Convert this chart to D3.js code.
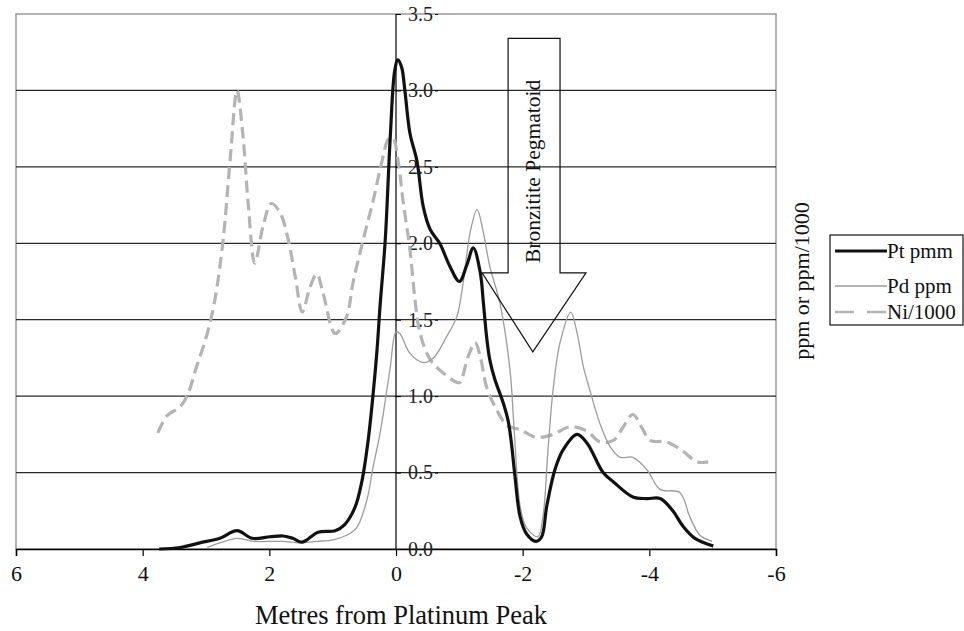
<!DOCTYPE html>
<html>
<head>
<meta charset="utf-8">
<script src="https://cdn.jsdelivr.net/npm/d3@7"></script>
<style>
  html, body { margin: 0; padding: 0; background: #fff; }
  svg { display: block; font-family: "Liberation Serif", "Times New Roman", serif; }
</style>
</head>
<body>
<svg id="chart" width="964" height="631"></svg>
<script>
// ---- Data (metres from platinum peak, value) ----
const ptX = [3.74,3.41,3.10,2.78,2.51,2.27,1.99,1.78,1.63,1.48,1.23,0.96,0.81,0.65,0.54,0.44,0.36,0.30,0.25,0.17,0.09,0.02,-0.03,-0.09,-0.14,-0.22,-0.33,-0.43,-0.54,-0.69,-0.85,-1.00,-1.12,-1.22,-1.33,-1.38,-1.43,-1.48,-1.56,-1.69,-1.77,-1.82,-1.88,-1.96,-2.06,-2.21,-2.30,-2.38,-2.51,-2.64,-2.86,-3.02,-3.27,-3.43,-3.74,-3.96,-4.17,-4.37,-4.53,-4.72,-5.01];
const ptY = [0.00,0.01,0.04,0.07,0.12,0.07,0.08,0.085,0.07,0.045,0.11,0.12,0.16,0.27,0.44,0.71,1.02,1.30,1.60,2.02,2.70,3.13,3.20,3.15,3.00,2.72,2.54,2.24,2.09,2.00,1.85,1.75,1.86,1.97,1.81,1.61,1.39,1.24,1.11,0.96,0.84,0.70,0.47,0.21,0.10,0.05,0.08,0.28,0.52,0.65,0.75,0.69,0.50,0.44,0.34,0.33,0.33,0.25,0.15,0.07,0.02];

const pdX = [2.98,2.78,2.51,2.26,1.78,1.52,1.25,0.99,0.78,0.62,0.46,0.36,0.25,0.17,0.09,0.00,-0.06,-0.22,-0.43,-0.59,-0.80,-0.96,-1.06,-1.17,-1.28,-1.37,-1.48,-1.64,-1.80,-1.87,-1.96,-2.06,-2.24,-2.32,-2.40,-2.48,-2.59,-2.76,-2.86,-2.96,-3.06,-3.22,-3.38,-3.54,-3.74,-3.96,-4.17,-4.48,-4.64,-4.80,-4.99];
const pdY = [0.01,0.04,0.07,0.05,0.05,0.04,0.05,0.06,0.09,0.14,0.32,0.54,0.76,0.97,1.19,1.42,1.41,1.28,1.22,1.25,1.39,1.52,1.74,2.07,2.22,2.09,1.85,1.61,1.17,0.75,0.28,0.14,0.08,0.21,0.65,1.04,1.35,1.55,1.41,1.19,1.04,0.82,0.67,0.60,0.60,0.52,0.39,0.37,0.21,0.09,0.05];

const niX = [3.76,3.62,3.41,3.30,3.15,2.98,2.86,2.73,2.62,2.51,2.42,2.33,2.23,2.10,1.97,1.83,1.70,1.59,1.48,1.36,1.25,1.15,0.96,0.78,0.68,0.52,0.36,0.22,0.12,0.05,-0.04,-0.11,-0.22,-0.30,-0.38,-0.54,-0.75,-0.96,-1.01,-1.14,-1.25,-1.33,-1.43,-1.59,-1.75,-1.96,-2.22,-2.48,-2.75,-3.02,-3.22,-3.43,-3.59,-3.74,-3.90,-4.01,-4.27,-4.53,-4.75,-4.93];
const niY = [0.76,0.87,0.93,1.00,1.19,1.41,1.63,2.02,2.54,3.00,2.72,2.24,1.87,2.11,2.26,2.20,2.02,1.78,1.55,1.71,1.80,1.67,1.41,1.52,1.74,2.02,2.28,2.54,2.68,2.69,2.52,2.28,1.96,1.63,1.41,1.24,1.15,1.09,1.09,1.26,1.35,1.26,1.06,0.91,0.81,0.78,0.73,0.75,0.80,0.77,0.70,0.71,0.80,0.88,0.78,0.71,0.70,0.64,0.57,0.57];

const seriesNames = ["Pt pmm", "Pd ppm", "Ni/1000"];
const xTicks = [6, 4, 2, 0, -2, -4, -6];
const yTicks = [0, 0.5, 1.0, 1.5, 2.0, 2.5, 3.0, 3.5];
const xTitle = "Metres from Platinum Peak";
const yTitle = "ppm or ppm/1000";
const annotationText = "Bronzitite Pegmatoid";
// annotation arrow outline in data units
const arrowShape = { left: -1.77, right: -2.59, top: 3.34, shoulder: 1.806, wingL: -1.36, wingR: -3.0, tipX: -2.16, tipY: 1.29, textY: 2.47 };

// ---- Layout ----
const svg = d3.select("#chart");
const plot = { left: 16, right: 776, top: 14, bottom: 549 };
const x = d3.scaleLinear().domain([6, -6]).range([plot.left, plot.right]);
const y = d3.scaleLinear().domain([0, 3.5]).range([plot.bottom, plot.top]);

// Frame
svg.append("rect")
  .attr("x", plot.left).attr("y", plot.top)
  .attr("width", plot.right - plot.left).attr("height", plot.bottom - plot.top)
  .attr("fill", "none").attr("stroke", "#9a9a9a").attr("stroke-width", 1.5);

// Gridlines
svg.append("g").selectAll("line")
  .data(yTicks.filter(d => d > 0 && d < 3.5))
  .join("line")
  .attr("x1", plot.left).attr("x2", plot.right)
  .attr("y1", d => y(d)).attr("y2", d => y(d))
  .attr("stroke", "#2a2a2a").attr("stroke-width", 1.3);

// X axis (at y=0)
const xAxis = d3.axisBottom(x).tickValues(xTicks).tickFormat(d => String(d)).tickSize(7).tickPadding(9);
const gx = svg.append("g").attr("transform", `translate(0,${y(0)})`).call(xAxis);
gx.attr("font-family", "Liberation Serif");
gx.select(".domain").attr("stroke", "#000").attr("stroke-width", 1.5);
gx.selectAll(".tick line").attr("stroke", "#000").attr("stroke-width", 1.2);
gx.selectAll(".tick text").attr("font-size", 22).attr("fill", "#111");

// Y axis (at x=0), labels to the right, overlapping the plot
const yAxis = d3.axisRight(y).tickValues(yTicks).tickFormat(d3.format(".1f")).tickSize(5).tickPadding(7);
const gy = svg.append("g").attr("transform", `translate(${x(0)},0)`).call(yAxis);
gy.attr("font-family", "Liberation Serif");
gy.select(".domain").attr("stroke", "#000").attr("stroke-width", 1.2).attr("d", `M0,${y(3.5)}V${y(0)}`);
gy.selectAll(".tick line").attr("stroke", "#000");
gy.selectAll(".tick text").attr("font-size", 20).attr("fill", "#222");
gy.selectAll(".tick").append("line")
  .attr("x1", 39).attr("x2", 42).attr("y1", 0).attr("y2", 0)
  .attr("stroke", "#000").attr("stroke-width", 1);

// Lines
const line = d3.line().x(d => x(d[0])).y(d => y(d[1])).curve(d3.curveCatmullRom.alpha(0.5));
const zip = (a, b) => a.map((v, i) => [v, b[i]]);

svg.append("path").datum(zip(niX, niY))
  .attr("d", line).attr("fill", "none")
  .attr("stroke", "#b4b4b4").attr("stroke-width", 3.2)
  .attr("stroke-dasharray", "12,6");

svg.append("path").datum(zip(pdX, pdY))
  .attr("d", line).attr("fill", "none")
  .attr("stroke", "#9c9c9c").attr("stroke-width", 1.3);

svg.append("path").datum(zip(ptX, ptY))
  .attr("d", line).attr("fill", "none")
  .attr("stroke", "#111").attr("stroke-width", 3.2).attr("stroke-linejoin", "round");

// Annotation arrow
const a = arrowShape;
const arrowPts = [
  [a.left, a.top], [a.right, a.top], [a.right, a.shoulder], [a.wingR, a.shoulder],
  [a.tipX, a.tipY], [a.wingL, a.shoulder], [a.left, a.shoulder]
];
svg.append("polygon")
  .attr("points", arrowPts.map(p => `${x(p[0])},${y(p[1])}`).join(" "))
  .attr("fill", "none").attr("stroke", "#111").attr("stroke-width", 1.2);
svg.append("text")
  .attr("transform", `translate(${x(a.tipX) + 7},${y(a.textY)}) rotate(-90)`)
  .attr("text-anchor", "middle")
  .attr("font-size", 21.5).attr("fill", "#111")
  .text(annotationText);

// Axis titles
svg.append("text")
  .attr("x", 401).attr("y", 624)
  .attr("text-anchor", "middle").attr("font-size", 26.5).attr("fill", "#111")
  .text(xTitle);
svg.append("text")
  .attr("transform", `translate(809,281) rotate(-90)`)
  .attr("text-anchor", "middle").attr("font-size", 22).attr("fill", "#111")
  .text(yTitle);

// Legend
const lg = svg.append("g").attr("transform", "translate(830,235)");
lg.append("rect").attr("x", 0).attr("y", 0).attr("width", 133).attr("height", 90)
  .attr("fill", "#fff").attr("stroke", "#111").attr("stroke-width", 1.2);
const legendStyles = [
  { stroke: "#111", width: 3.2, dash: null, y: 16 },
  { stroke: "#9c9c9c", width: 1.3, dash: null, y: 51 },
  { stroke: "#b4b4b4", width: 2.5, dash: "19,13", y: 77 }
];
seriesNames.forEach((name, i) => {
  const s = legendStyles[i];
  lg.append("line").attr("x1", 5).attr("x2", 57).attr("y1", s.y).attr("y2", s.y)
    .attr("stroke", s.stroke).attr("stroke-width", s.width)
    .attr("stroke-dasharray", s.dash);
  lg.append("text").attr("x", 57).attr("y", s.y + 7)
    .attr("font-size", 21).attr("fill", "#111").text(name);
});
</script>
</body>
</html>
